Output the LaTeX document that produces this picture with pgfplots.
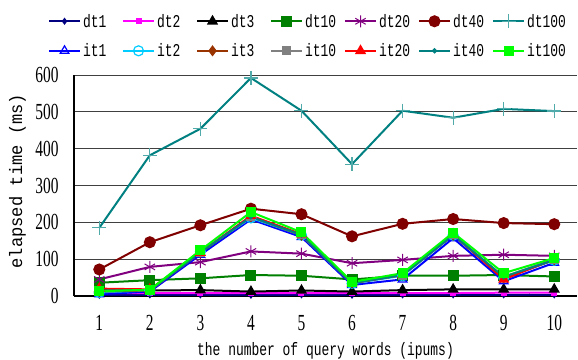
\documentclass[border=0pt]{standalone}
\usepackage{fontspec}
\setmainfont{Liberation Serif}
\newfontfamily\tickfont{Liberation Serif}[FakeStretch=0.67]
\newfontfamily\labfont{Liberation Mono}[FakeStretch=0.72]
\newfontfamily\ylabfont{Liberation Mono}[FakeStretch=0.95]
\usepackage{pgfplots}
\pgfplotsset{compat=1.18}
\definecolor{cnavy}{RGB}{0,0,128}
\definecolor{cmag}{RGB}{255,0,255}
\definecolor{cgreen}{RGB}{0,128,0}
\definecolor{cpurple}{RGB}{128,0,128}
\definecolor{cdred}{RGB}{128,0,0}
\definecolor{cteal}{RGB}{0,128,128}
\definecolor{cteall}{RGB}{80,170,170}
\definecolor{cblue}{RGB}{0,0,255}
\definecolor{ccyan}{RGB}{0,204,255}
\definecolor{cbrown}{RGB}{153,51,0}
\definecolor{cgray}{RGB}{128,128,128}
\definecolor{cred}{RGB}{255,0,0}
\definecolor{clime}{RGB}{0,255,0}
\pgfplotstableread{
x dtA dtB dtC dtD dtE dtF dtG itA itB itC itD itE itF itG
1 2 8 16 36 45 72 185 5 10 12 14 20 15 13
2 3 8 15 43 79 146 382 12 15 15 16 18 16 17
3 3 8 16 48 92 192 454 112 120 118 118 118 118 124
4 2 8 12 57 121 237 592 208 212 215 215 218 215 228
5 3 8 15 55 115 222 503 160 165 165 166 168 166 173
6 2 8 12 45 89 162 358 30 34 35 36 35 35 38
7 3 8 16 55 98 196 503 45 55 57 57 58 57 62
8 3 8 18 55 109 209 484 157 165 165 166 168 166 172
9 3 9 18 57 112 198 508 40 50 50 52 45 52 62
10 3 9 18 53 109 195 502 90 97 98 100 100 98 103
}\data
\newcommand{\legtxt}[1]{\makebox[34pt][l]{#1}}
\begin{document}
\begin{tikzpicture}
\begin{axis}[
  at={(74pt,63pt)}, anchor=south west,
  scale only axis, width=503pt, height=221pt,
  xmin=0.5, xmax=10.45, ymin=0, ymax=600,
  xtick={1,2,...,10}, ytick={0,100,...,600},
  minor xtick={1.5,2.5,...,9.5},
  axis x line*=bottom, axis y line*=left,
  x axis line style={line width=2.2pt, black},
  y axis line style={line width=1.2pt, black},
  ymajorgrids, grid style={black!75, line width=0.9pt},
  major x tick style={draw=none},
  minor x tick style={gray, line width=0.6pt},
  minor tick length=4pt,
  major y tick style={draw=none},
  /pgf/number format/assume math mode=true,
  tick label style={font={\fontsize{23pt}{23pt}\tickfont}},
  xticklabel style={yshift=-16pt},
  yticklabel style={xshift=-12pt},
  xlabel={the number of query words (ipums)},
  ylabel={elapsed time (ms)},
  xlabel style={at={(axis description cs:0.5,-0.268)}, anchor=base, font={\fontsize{18pt}{18pt}\labfont}},
  ylabel style={at={(axis description cs:-0.103,0.52)}, anchor=base, font={\fontsize{18pt}{18pt}\ylabfont}},
  legend columns=7,
  legend style={draw=none, fill=none, at={(axis description cs:-0.058,1.295)}, anchor=north west,
    font={\fontsize{18pt}{18pt}\labfont}, row sep=11pt,
    nodes={inner sep=2pt},
    /tikz/every even column/.append style={column sep=3pt}},
  legend image code/.code={\draw[mark repeat=2,mark phase=2,#1] plot coordinates {(0pt,0pt) (15.5pt,0pt) (31pt,0pt)};},
  every axis plot/.append style={line width=2pt},
]
\addplot[cnavy, mark=diamond*, mark size=2pt] table[x=x,y=dtA]{\data}; \addlegendentry{\legtxt{dt1}}
\addplot[cmag, mark=square*, mark size=2pt] table[x=x,y=dtB]{\data}; \addlegendentry{\legtxt{dt2}}
\addplot[black, mark=triangle*, mark size=4.5pt] table[x=x,y=dtC]{\data}; \addlegendentry{\legtxt{dt3}}
\addplot[cgreen, mark=square*, mark size=4.5pt] table[x=x,y=dtD]{\data}; \addlegendentry{\legtxt{dt10}}
\addplot[cpurple, mark=asterisk, mark size=6pt, mark options={line width=1pt}] table[x=x,y=dtE]{\data}; \addlegendentry{\legtxt{dt20}}
\addplot[cdred, mark=*, mark size=5pt] table[x=x,y=dtF]{\data}; \addlegendentry{\legtxt{dt40}}
\addplot[cteal, mark=+, mark size=7pt, mark options={cteall, line width=1.2pt}] table[x=x,y=dtG]{\data}; \addlegendentry{\legtxt{dt100}}
\addplot[cblue, mark=triangle, mark size=5pt, mark options={line width=1.2pt}] table[x=x,y=itA]{\data}; \addlegendentry{\legtxt{it1}}
\addplot[ccyan, mark=o, mark size=5pt, mark options={line width=1.2pt}] table[x=x,y=itB]{\data}; \addlegendentry{\legtxt{it2}}
\addplot[cbrown, mark=diamond*, mark size=4pt] table[x=x,y=itC]{\data}; \addlegendentry{\legtxt{it3}}
\addplot[cgray, mark=square*, mark size=3.5pt] table[x=x,y=itD]{\data}; \addlegendentry{\legtxt{it10}}
\addplot[cred, mark=triangle*, mark size=4.5pt] table[x=x,y=itE]{\data}; \addlegendentry{\legtxt{it20}}
\addplot[cteal, mark=*, mark size=1.5pt] table[x=x,y=itF]{\data}; \addlegendentry{\legtxt{it40}}
\addplot[clime, mark=square*, mark size=4pt] table[x=x,y=itG]{\data}; \addlegendentry{\legtxt{it100}}
\end{axis}
\pgfresetboundingbox
\path[use as bounding box] (0,0) rectangle (578pt,359pt);
\end{tikzpicture}
\end{document}
